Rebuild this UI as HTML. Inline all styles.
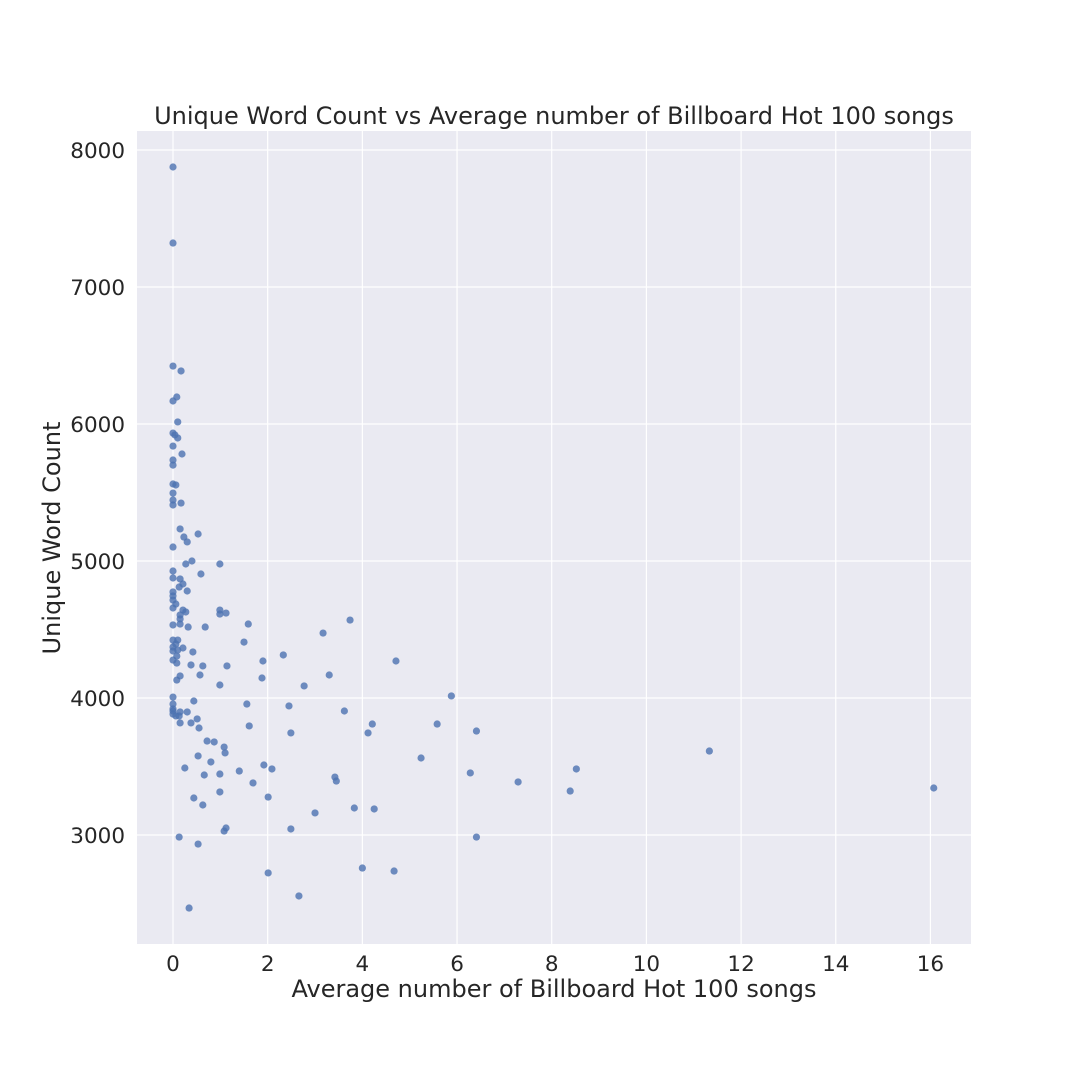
<!DOCTYPE html>
<html><head><meta charset="utf-8"><style>
html,body{margin:0;padding:0;background:#fff;}
svg{display:block;font-family:"DejaVu Sans","Liberation Sans",sans-serif;}
</style></head><body>
<svg id="chart" width="1080" height="1080" viewBox="0 0 1080 1080">
<rect x="137" y="131" width="834" height="813" fill="#eaeaf2"/>
<g id="grid"></g>
<g id="pts"></g>
<g id="ticks" fill="#262626" font-size="21.5"></g>
<text x="554" y="124" text-anchor="middle" font-size="24" fill="#262626">Unique Word Count vs Average number of Billboard Hot 100 songs</text>
<text x="554" y="997" text-anchor="middle" font-size="24" fill="#262626">Average number of Billboard Hot 100 songs</text>
<text transform="translate(60,538) rotate(-90)" text-anchor="middle" font-size="24" fill="#262626">Unique Word Count</text>
</svg>
<script>
const xTicks=[0,2,4,6,8,10,12,14,16];
const yTicks=[3000,4000,5000,6000,7000,8000];
const xVals=[0,0,0,0.17,0.08,0,0.1,0,0.04,0.1,0,0.19,0,0,0,0.06,0,0,0,0.17,0.15,0.53,0.23,0.3,0,0.4,0.27,0.99,0.59,0,0,0.15,0.21,0.13,0.3,0,0,0,0.06,0,0.21,0.27,0.99,0.99,1.12,0.15,0.15,3.74,1.59,0.15,0,0.32,0.68,3.17,0,0.1,1.5,0.06,0,0.21,0.1,0,0.42,0.08,2.33,0,1.9,4.71,0.08,0.38,0.63,1.14,3.3,0.57,0.15,0.08,1.88,0.99,2.77,5.88,0,0.44,1.56,0,2.45,0,0,3.62,0.15,0.3,0,0.06,0.13,0.51,0.15,0.38,1.61,4.21,5.58,0.55,2.49,4.12,6.41,0.72,0.87,1.08,11.33,1.1,0.53,5.24,0.8,1.92,0.25,2.09,8.52,1.4,0.66,0.99,6.28,3.42,3.45,1.69,7.29,16.07,8.39,0.99,0.44,2.01,0.63,3.83,4.25,3.0,1.12,2.49,1.08,0.13,6.41,0.53,4.0,4.67,2.01,2.66,0.34];
const yVals=[7876,7321,6423,6387,6197,6168,6015,5934,5920,5898,5839,5781,5737,5700,5562,5555,5496,5445,5409,5423,5234,5197,5175,5139,5102,5000,4978,4978,4905,4927,4876,4869,4832,4810,4781,4774,4745,4715,4686,4657,4642,4628,4642,4613,4620,4606,4577,4569,4540,4540,4533,4518,4518,4474,4423,4423,4408,4394,4372,4365,4350,4343,4336,4306,4314,4277,4270,4270,4255,4241,4234,4234,4168,4168,4161,4131,4146,4095,4088,4015,4007,3978,3956,3956,3942,3920,3905,3905,3898,3898,3883,3869,3869,3847,3818,3818,3796,3810,3810,3781,3745,3745,3759,3686,3679,3642,3613,3599,3577,3562,3533,3511,3489,3482,3482,3467,3438,3445,3453,3423,3394,3380,3387,3343,3321,3314,3270,3277,3219,3197,3190,3161,3051,3044,3029,2985,2985,2934,2759,2737,2723,2555,2467];
const X=v=>173+v*47.34;
const Y=v=>835-(v-3000)*0.137;
const NS='http://www.w3.org/2000/svg';
const grid=document.getElementById('grid'),ticks=document.getElementById('ticks'),pts=document.getElementById('pts');
xTicks.forEach(t=>{
 const l=document.createElementNS(NS,'line');
 
 
 l.setAttribute('x1',X(t));l.setAttribute('x2',X(t));l.setAttribute('y1',131);l.setAttribute('y2',944);
 l.setAttribute('stroke','#fff');l.setAttribute('stroke-width','1.2');grid.appendChild(l);
 const tx=document.createElementNS(NS,'text');
 
 
 tx.setAttribute('x',X(t));tx.setAttribute('y',971);tx.setAttribute('text-anchor','middle');
 tx.textContent=t;ticks.appendChild(tx);
});
yTicks.forEach(t=>{
 const l=document.createElementNS(NS,'line');
 
 
 l.setAttribute('x1',137);l.setAttribute('x2',971);l.setAttribute('y1',Y(t));l.setAttribute('y2',Y(t));
 l.setAttribute('stroke','#fff');l.setAttribute('stroke-width','1.2');grid.appendChild(l);
 const tx=document.createElementNS(NS,'text');
 
 
 tx.setAttribute('x',125);tx.setAttribute('y',Y(t)+8);tx.setAttribute('text-anchor','end');
 tx.textContent=t;ticks.appendChild(tx);
});
xVals.forEach((v,i)=>{
 const c=document.createElementNS(NS,'circle');
 
 
 c.setAttribute('cx',X(v));c.setAttribute('cy',Y(yVals[i]));c.setAttribute('r',3.6);
 c.setAttribute('fill','#4c72b0');c.setAttribute('fill-opacity','0.8');pts.appendChild(c);
});
</script>
</body></html>
